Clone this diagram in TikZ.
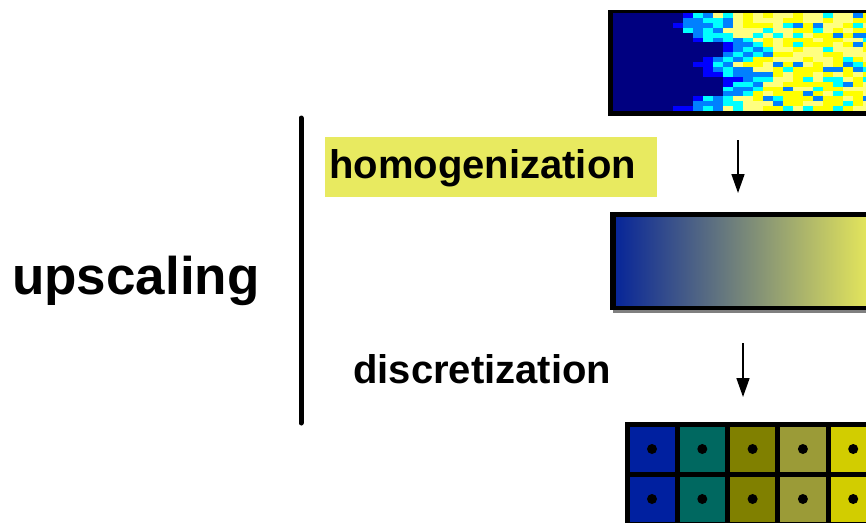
\documentclass[tikz,border=0pt]{standalone}
\usepackage{fontspec}
\setmainfont{Liberation Sans}
\usetikzlibrary{arrows.meta}

% jet colours of the fine field
\definecolor{fld0}{RGB}{0,0,128}
\definecolor{fld1}{RGB}{0,0,255}
\definecolor{fld2}{RGB}{0,128,255}
\definecolor{fld3}{RGB}{0,255,255}
\definecolor{fld4}{RGB}{255,255,128}
\definecolor{fld5}{RGB}{255,255,0}
% homogenized and coarse colours
\definecolor{homL}{RGB}{8,38,152}
\definecolor{homR}{RGB}{226,228,92}
\definecolor{cell1}{RGB}{0,32,160}
\definecolor{cell2}{RGB}{0,104,96}
\definecolor{cell3}{RGB}{128,128,0}
\definecolor{cell4}{RGB}{155,155,55}
\definecolor{cell5}{RGB}{210,205,0}
\definecolor{hilite}{RGB}{232,234,96}

\begin{document}
\begin{tikzpicture}[x=1pt,y=-1pt,
	word/.style={inner sep=0pt, anchor=base west, font=\bfseries\fontsize{40}{48}\selectfont},
	stage/.style={line width=1.6pt, -{Triangle[length=19pt,width=13pt]}},
	cell/.style={draw=black, line width=5pt}
	]
	\useasboundingbox (0,0) rectangle (866,522);

	% labels
	\node[word, font=\bfseries\fontsize{53}{62}\selectfont] (up) at (12,294) {upscaling};
	\fill[hilite] (325,137) rectangle (657,197);
	\node[word] (hom) at (329,178) {homogenization};
	\node[word] (disc) at (353,383) {discretization};

	\coordinate (bartop) at (301,118);
	\coordinate (barbot) at (301,423);
	\draw[line width=5pt, line cap=round] (bartop) -- (barbot);

	% fine field
	\fill[black] (608,10) rectangle (870,116);
	\pgfmathsetseed{23}
	\foreach \f [count=\r from 0] in {672,682,682,684,690,700,722,725,724,705,698,705,712,722,718,718,716,693,682,680} {
		\foreach \c in {0,...,25} {
			\pgfmathsetmacro\d{618+10*\c-\f+16*rnd-8}
			\pgfmathtruncatemacro\k{\d<0 ? 0 : (\d<9 ? 1 : (\d<45 ? 2+int(2*rnd) : (rnd<0.22 ? 2+int(2*rnd) : 4+int(2*rnd))))}
			\fill[fld\k] (613+10*\c,13+4.9*\r) rectangle ++(10.3,5.2);
		}
	}

	% homogenized field
	\fill[gray] (613,310) rectangle (870,312.5);
	\fill[black] (610,212) rectangle (870,310);
	\shade[left color=homL, right color=homR] (616,217) rectangle (866,305);

	% coarse grid
	\foreach \col [count=\i from 0] in {cell1,cell2,cell3,cell4,cell5} {
		\foreach \j in {0,1} {
			\draw[cell, fill=\col] (627+50.3*\i,424+50*\j) rectangle ++(50.3,50);
			\fill (652+50.3*\i,449+50*\j) circle (5);
		}
	}

	% steps
	\coordinate (a1) at (738,140);
	\coordinate (b1) at (738,193);
	\coordinate (a2) at (743,343);
	\coordinate (b2) at (743,397);
	\draw[stage] (a1) -- (b1);
	\draw[stage] (a2) -- (b2);
\end{tikzpicture}
\end{document}
